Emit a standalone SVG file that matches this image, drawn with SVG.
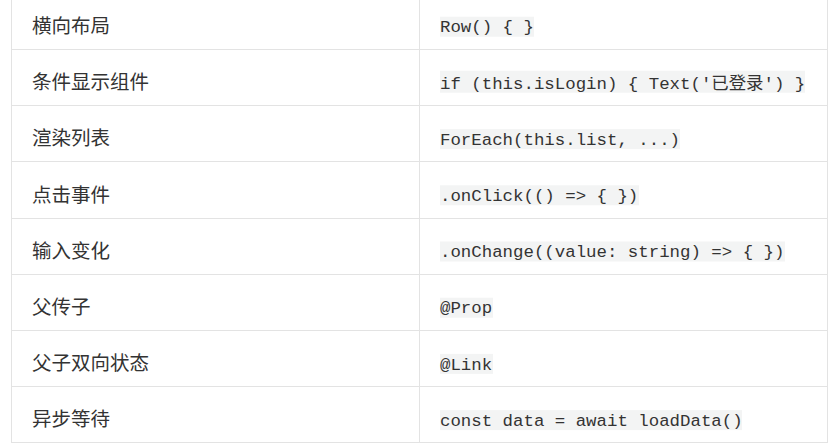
<svg xmlns="http://www.w3.org/2000/svg" width="831" height="446" viewBox="0 0 831 446">
<style>
.grid{stroke:#e3e3e3;stroke-width:1;fill:none}
.lbl{font-family:"Noto Sans CJK SC","Noto Sans",sans-serif;font-size:19.5px;fill:#333}
.code{font-family:"Liberation Mono","Noto Sans CJK SC",monospace;font-size:17.4px;fill:#333;white-space:pre}
.cbg{fill:#f3f4f4}
</style>
<rect x="0" y="0" width="831" height="446" fill="#ffffff"/>
<g id="grid" class="grid">
<line x1="11.5" y1="0" x2="11.5" y2="443"/>
<line x1="419.5" y1="0" x2="419.5" y2="443"/>
<line x1="827.5" y1="0" x2="827.5" y2="443"/>
<line x1="11" y1="49.5" x2="828" y2="49.5"/>
<line x1="11" y1="105.5" x2="828" y2="105.5"/>
<line x1="11" y1="161.5" x2="828" y2="161.5"/>
<line x1="11" y1="218.5" x2="828" y2="218.5"/>
<line x1="11" y1="274.5" x2="828" y2="274.5"/>
<line x1="11" y1="330.5" x2="828" y2="330.5"/>
<line x1="11" y1="386.5" x2="828" y2="386.5"/>
<line x1="11" y1="442.5" x2="828" y2="442.5"/>
</g>
<g id="row1">
<text class="lbl" x="32" y="33">横向布局</text>
<rect class="cbg" x="440" y="16.7" width="94" height="20"/>
<text class="code" x="440" y="32.3">Row() { }</text>
</g>
<g id="row2">
<text class="lbl" x="32" y="89.2">条件显示组件</text>
<rect class="cbg" x="440" y="70.7" width="365" height="22"/>
<text class="code" x="440" y="88.5">if (this.isLogin) { Text('已登录') }</text>
</g>
<g id="row3">
<text class="lbl" x="32" y="145.4">渲染列表</text>
<rect class="cbg" x="440" y="129.1" width="240" height="20"/>
<text class="code" x="440" y="144.7">ForEach(this.list, ...)</text>
</g>
<g id="row4">
<text class="lbl" x="32" y="201.6">点击事件</text>
<rect class="cbg" x="440" y="185.3" width="199" height="20"/>
<text class="code" x="440" y="200.9">.onClick(() =&gt; { })</text>
</g>
<g id="row5">
<text class="lbl" x="32" y="257.8">输入变化</text>
<rect class="cbg" x="440" y="241.5" width="345" height="20"/>
<text class="code" x="440" y="257.1">.onChange((value: string) =&gt; { })</text>
</g>
<g id="row6">
<text class="lbl" x="32" y="314">父传子</text>
<rect class="cbg" x="440" y="297.7" width="53" height="20"/>
<text class="code" x="440" y="313.3">@Prop</text>
</g>
<g id="row7">
<text class="lbl" x="32" y="370.2">父子双向状态</text>
<rect class="cbg" x="440" y="353.9" width="53" height="20"/>
<text class="code" x="440" y="369.5">@Link</text>
</g>
<g id="row8">
<text class="lbl" x="32" y="426.4">异步等待</text>
<rect class="cbg" x="440" y="410.1" width="302" height="20"/>
<text class="code" x="440" y="425.7">const data = await loadData()</text>
</g>
</svg>
